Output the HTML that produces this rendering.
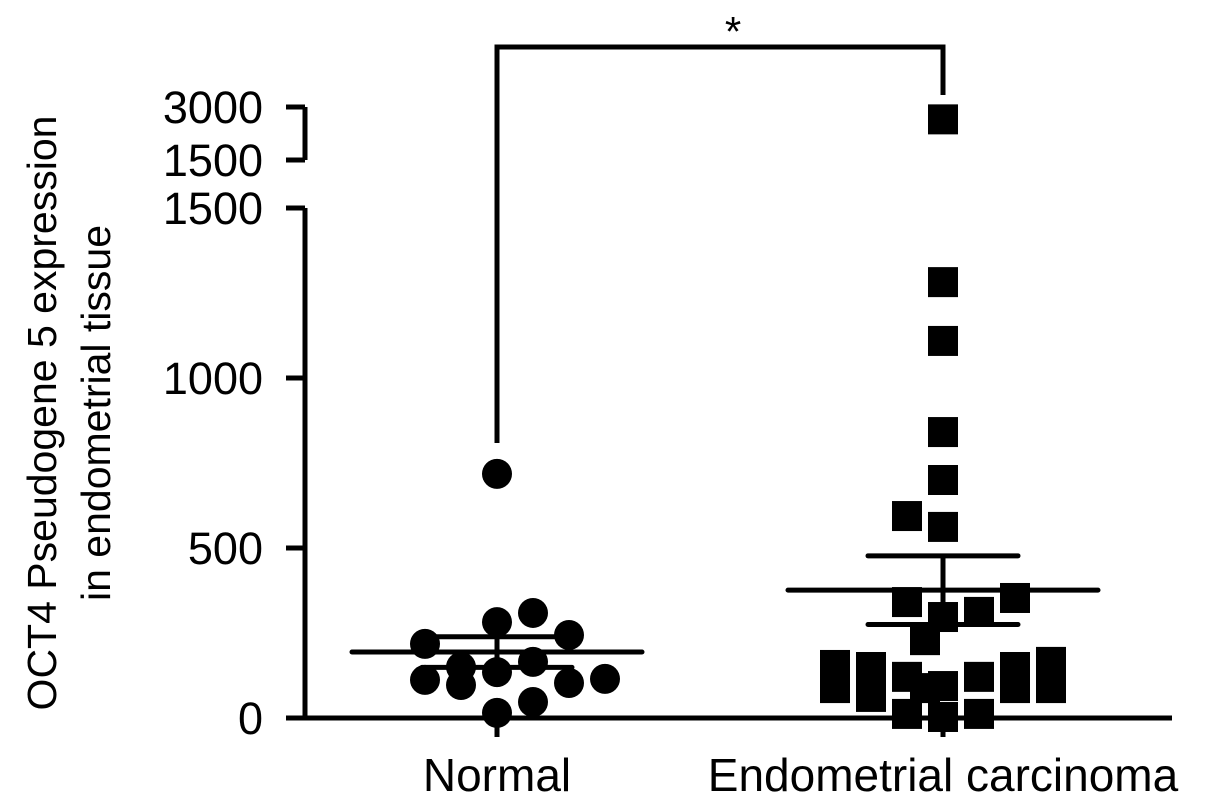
<!DOCTYPE html>
<html><head><meta charset="utf-8"><style>
body{margin:0;background:#fff;}
svg text{font-family:"Liberation Sans",sans-serif;fill:#000;}
</style></head><body>
<svg id="chart" width="1205" height="803" xmlns="http://www.w3.org/2000/svg">
<g id="axes"></g><g id="marks"></g>
</svg>
<script>
const groups = ["Normal", "Endometrial carcinoma"];
const normalValues = [718, 282, 309, 218, 244, 150, 97, 112, 135, 165, 103, 115, 47, 15];
const normalSlots = [0, 0, 1, -2, 2, -1, -1, -2, 0, 1, 2, 3, 1, 0];
const carcinomaValues = [2650, 1282, 1109, 841, 700, 594, 562, 341, 312, 297, 353, 229, 156, 88, 150, 62, 121, 94, 121, 150, 88, 165, 88, 88, 12, 3, 12];
const carcinomaSlots = [0, 0, 0, 0, 0, -1, 0, -1, 1, 0, 2, -0.5, -3, -3, -2, -2, -1, 0, 1, 2, 2, 3, 3, -0.5, -1, 0, 1];
const meanValues = [194, 376];
const semValues = [45, 101];
const yTicks = [0, 500, 1000, 1500];
const upperTicks = [1500, 3000];

const NS = "http://www.w3.org/2000/svg";
const axes = document.getElementById("axes"), marks = document.getElementById("marks");
function y(v){ return 718 - v * 0.34; }
function yUp(v){ return 160 - (v - 1500) / 1500 * 53; }
function yAny(v){ return v > 1500 ? yUp(v) : y(v); }
const groupX = [497, 943];
function mk(tag, attrs, parent){ const e=document.createElementNS(NS,tag); for(const k in attrs) e.setAttribute(k,attrs[k]); parent.appendChild(e); return e; }

let e;
e = mk("line",{x1:305,y1:208,x2:305,y2:718,stroke:"#000","stroke-width":5},axes);


e = mk("line",{x1:305,y1:107,x2:305,y2:160,stroke:"#000","stroke-width":5},axes);


e = mk("line",{x1:303,y1:718,x2:1172,y2:718,stroke:"#000","stroke-width":5},axes);


yTicks.forEach(t=>{
  e = mk("line",{x1:286,y1:y(t),x2:305,y2:y(t),stroke:"#000","stroke-width":5},axes);
  
  
  e = mk("text",{x:263,y:y(t)+16,"font-size":45,"text-anchor":"end"},axes); e.textContent=t;
  
  
});
upperTicks.forEach(t=>{
  e = mk("line",{x1:286,y1:yUp(t),x2:305,y2:yUp(t),stroke:"#000","stroke-width":5},axes);
  
  
  e = mk("text",{x:263,y:yUp(t)+16,"font-size":45,"text-anchor":"end"},axes); e.textContent=t;
  
  
});
groups.forEach((g,i)=>{
  e = mk("line",{x1:groupX[i],y1:718,x2:groupX[i],y2:737,stroke:"#000","stroke-width":5},axes);
  
  
  e = mk("text",{x:groupX[i],y:791,"font-size":46,"text-anchor":"middle"},axes); e.textContent=g;
  
  
});
e = mk("text",{transform:"translate(56,413) rotate(-90)","font-size":41,"text-anchor":"middle"},axes); e.textContent="OCT4 Pseudogene 5 expression";


e = mk("text",{transform:"translate(110,413) rotate(-90)","font-size":41,"text-anchor":"middle"},axes); e.textContent="in endometrial tissue";


e = mk("polyline",{points:"497,443 497,47 943,47 943,95",fill:"none",stroke:"#000","stroke-width":5},axes);


e = mk("text",{x:733,y:46,"font-size":42,"text-anchor":"middle"},axes); e.textContent="*";



normalValues.forEach((v,i)=>{
  e = mk("circle",{cx:groupX[0]+normalSlots[i]*36,cy:yAny(v),r:15,fill:"#000"},marks);
  
  
});
carcinomaValues.forEach((v,i)=>{
  const cx=groupX[1]+carcinomaSlots[i]*36, cy=yAny(v);
  e = mk("rect",{x:cx-15,y:cy-15,width:30,height:30,fill:"#000"},marks);
  
  
});
meanValues.forEach((m,i)=>{
  const cx=groupX[i], hw=[145,155][i], sw=[75,75][i];
  e = mk("line",{x1:cx-hw,y1:y(m),x2:cx+hw,y2:y(m),stroke:"#000","stroke-width":5,"stroke-linecap":"round"},marks);
  
  
  e = mk("line",{x1:cx,y1:y(m+semValues[i]),x2:cx,y2:y(m-semValues[i]),stroke:"#000","stroke-width":5},marks);
  
  
  [m+semValues[i], m-semValues[i]].forEach(s=>{
    e = mk("line",{x1:cx-sw,y1:y(s),x2:cx+sw,y2:y(s),stroke:"#000","stroke-width":5,"stroke-linecap":"round"},marks);
    
    
  });
});
</script>
</body></html>
